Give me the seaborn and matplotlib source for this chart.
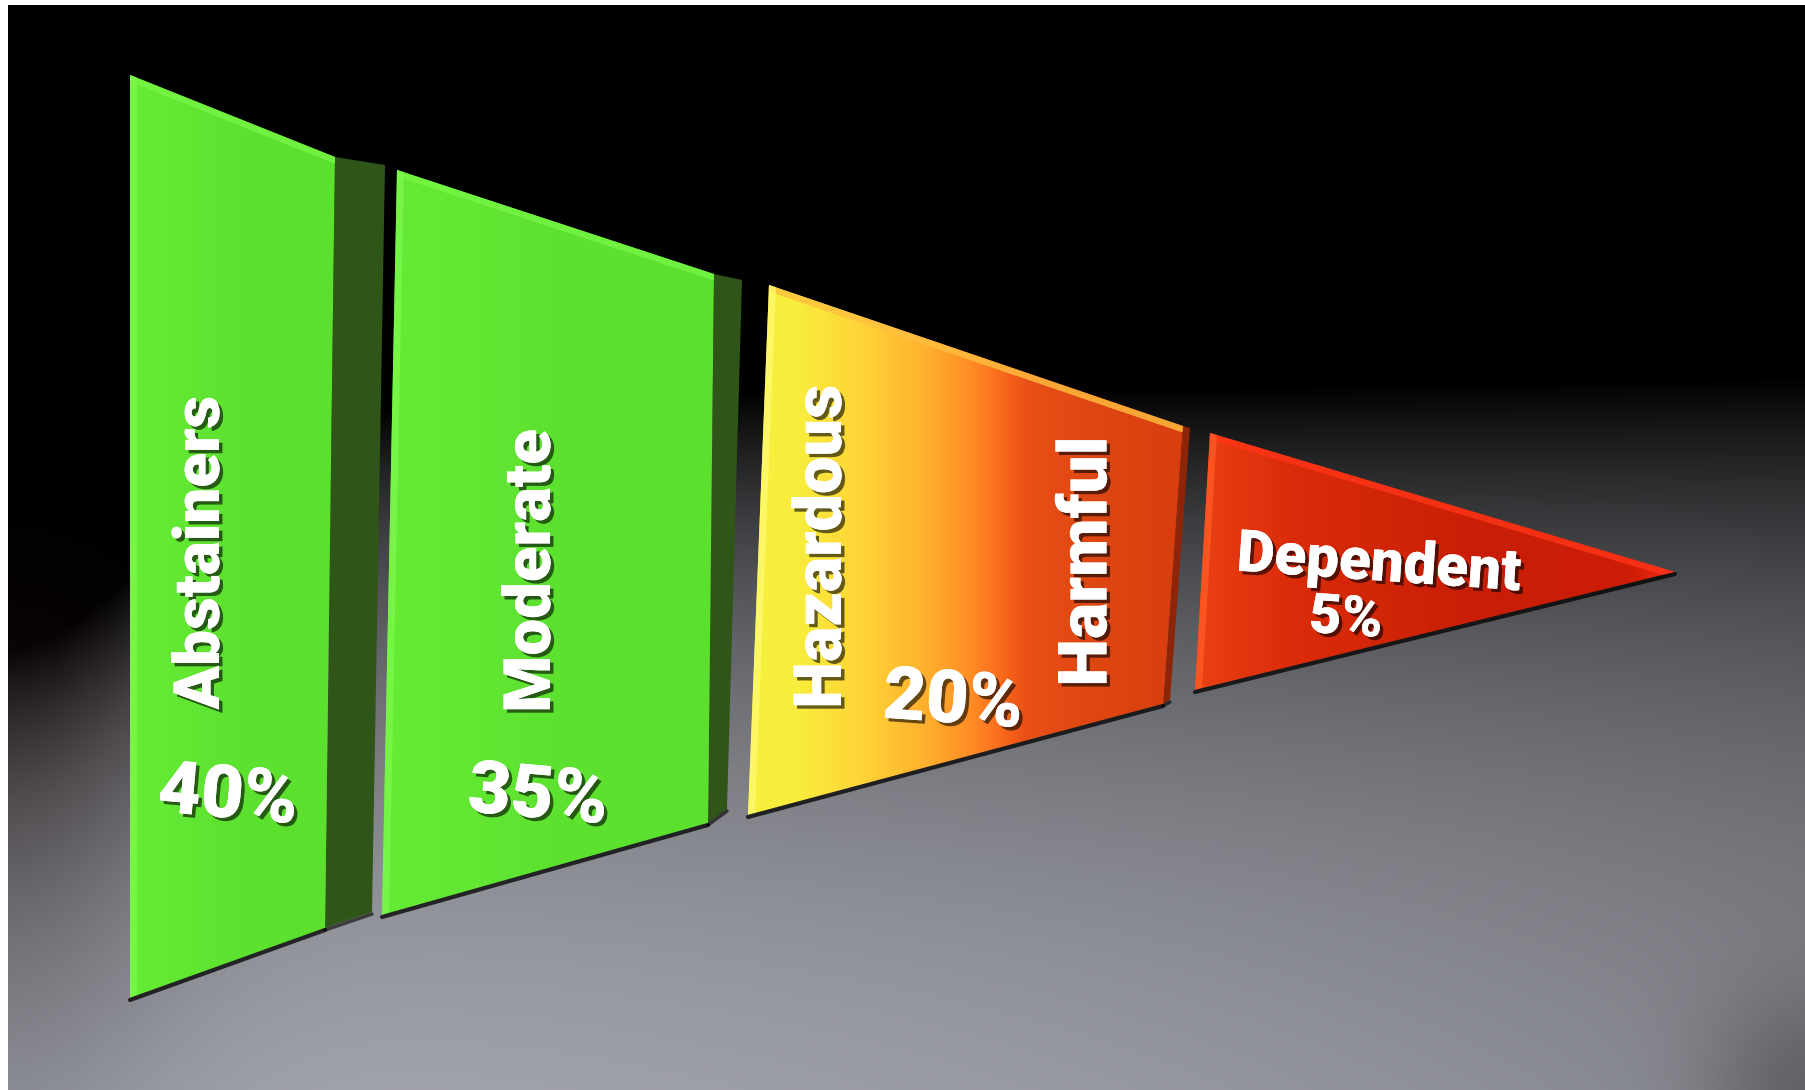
import numpy as np
import matplotlib
matplotlib.use("Agg")
import matplotlib.pyplot as plt
import seaborn as sns
from matplotlib.patches import Polygon
from matplotlib.lines import Line2D
from matplotlib import patheffects as pe
from matplotlib.colors import to_rgb

# ---- data: drinking patterns and their share of the population ----
groups = ["Abstainers", "Moderate", "Hazardous / Harmful", "Dependent"]
shares = [40, 35, 20, 5]
group_words = [["Abstainers"], ["Moderate"], ["Hazardous", "Harmful"], ["Dependent"]]

# ---- layout (canvas pixels, y grows downwards) ----
W, H = 1805, 1090
# front face of each block: top-left, top-right, bottom-right, bottom-left
block_faces = [
    [(130, 75), (335, 157), (325, 928), (130, 998)],
    [(397, 170), (714, 274), (708, 823), (382, 915)],
    [(769, 285), (1183, 426), (1163, 704), (748, 815)],
    [(1210, 433), (1675, 572), (1675, 572), (1195, 690)],
]
# visible right-hand side face of each block: top-right, bottom-right (None = no side)
block_sides = [
    [(385, 165), (372, 912)],
    [(742, 280), (727, 809)],
    [(1190, 428), (1170, 700)],
    None,
]
side_colors = ["#2f5518", "#2f5518", "#8e2408", None]

# face colour ramps (left -> right) with stop positions
face_ramps = [
    (["#66ec35", "#5ee230", "#5be02d"], [0.0, 0.5, 1.0]),
    (["#66ec35", "#5ee230", "#5be02d"], [0.0, 0.5, 1.0]),
    (["#f6f23e", "#f9ec3c", "#ffd236", "#ffb22e", "#ff8e26", "#fa6c1c",
      "#ea5016", "#de4612", "#d83e0e"],
     [0.0, 0.12, 0.27, 0.4, 0.51, 0.58, 0.64, 0.8, 1.0]),
    (["#ec4014", "#da2c0a", "#c81e06", "#cc1c06", "#f02a10"],
     [0.0, 0.2, 0.6, 0.9, 1.0]),
]
top_glow = ["#76f644", "#76f644", "#ffc040", "#ff3418"]
left_glow = ["#7cf84c", "#7cf84c", "#fff870", "#ff5a24"]

# label anchors: (x, y, rotation)
word_pos = [
    [(201, 553, 90)],
    [(532, 571, 90)],
    [(823, 547, 90), (1088, 562, 90)],
    [(1379, 565, -4)],
]
share_pos = [(228, 797, -5), (538, 797, -5), (953, 702, -4), (1346, 619, -4)]
word_size = [[46], [47], [48, 49], [42]]
share_size = [53, 53, 53, 40]

sns.set_theme(style="white")
plt.rcParams["font.family"] = ["Roboto", "DejaVu Sans"]

fig = plt.figure(figsize=(W / 100, H / 100), dpi=100, facecolor="white")
ax = fig.add_axes([8 / W, 0, 1 - 8 / W, 1 - 5 / H])
ax.set_axis_off()

# ---- backdrop: black studio fading into a grey floor ----
yy, xx = np.mgrid[0:H, 0:W].astype(float)
y0 = 395 + 255 * np.exp(-(xx / 220) ** 2) - 20 * (xx / W) ** 2
vmax = 0.72 - 0.14 * (xx / W) ** 2
d = np.clip(yy - y0, 0, None)
v = vmax * (1 - np.exp(-d / 300))
v *= 1 - 0.25 * np.exp(-(((xx - W) ** 2 + (yy - H) ** 2) / 100 ** 2))
warm = 0.05 * np.exp(-(xx / 160) ** 2) * np.exp(-((yy - 720) / 160) ** 2)
bg = np.stack([v * 0.98 + warm, v * 0.99 + warm * 0.4, v * 1.04 + warm * 0.4], axis=-1)
bg = np.clip(bg, 0, 1)
ax.imshow(bg, extent=(0, W, H, 0), aspect="auto", zorder=0, interpolation="bilinear")


def ramp_image(colors, stops, n=600):
    rgb = np.array([to_rgb(c) for c in colors])
    t = np.linspace(0, 1, n)
    return np.stack([np.interp(t, stops, rgb[:, k]) for k in range(3)], axis=-1)[None, :, :]


def draw_block(i):
    face = block_faces[i]
    side = block_sides[i]
    # side face first so the front overlaps its seam
    if side is not None:
        tr, br = face[1], face[2]
        ax.add_patch(Polygon([tr, side[0], side[1], br], closed=True,
                             facecolor=side_colors[i], edgecolor="none", zorder=2))
        ax.plot([br[0], side[1][0]], [br[1] + 2, side[1][1] + 2],
                color="black", lw=2.5, alpha=0.6, zorder=2, solid_capstyle="round")
    xs = [p[0] for p in face]
    ys = [p[1] for p in face]
    colors, stops = face_ramps[i]
    img = ramp_image(colors, stops)
    im = ax.imshow(img, extent=(min(xs), max(xs), max(ys), min(ys)), aspect="auto",
                   zorder=3, interpolation="bilinear")
    clip = Polygon(face, closed=True, facecolor="none", edgecolor="none", zorder=3)
    ax.add_patch(clip)
    im.set_clip_path(clip)
    # bevel glow on top and left edges
    tl, tr, br, bl = face
    for (p, q), col, lw in [((tl, tr), top_glow[i], 9), ((bl, tl), left_glow[i], 10)]:
        ln = Line2D([p[0], q[0]], [p[1], q[1]], color=col, lw=lw, alpha=0.8, zorder=4)
        ax.add_line(ln)
        ln.set_clip_path(clip)
    # dark rim along the lower edge
    ax.plot([bl[0], br[0]], [bl[1] + 2, br[1] + 2], color="black", lw=3, alpha=0.75,
            zorder=4, solid_capstyle="round")


for i in range(len(groups)):
    draw_block(i)

shadow = [pe.withSimplePatchShadow(offset=(2.5, -2.5), shadow_rgbFace="black", alpha=0.6),
          pe.Normal()]

for i in range(len(groups)):
    for word, (x, y, rot), fs in zip(group_words[i], word_pos[i], word_size[i]):
        ax.text(x, y, word, rotation=rot, ha="center", va="center", color="white",
                fontsize=fs, fontweight="black", zorder=6,
                rotation_mode="anchor", path_effects=shadow)
    x, y, rot = share_pos[i]
    ax.text(x, y, f"{shares[i]}%", rotation=rot, ha="center", va="center", color="white",
            fontsize=share_size[i], fontweight="black", zorder=6,
            rotation_mode="anchor", path_effects=shadow)

ax.set_xlim(8, W)
ax.set_ylim(H, 5)

fig.savefig("out.png", dpi=100, facecolor="white")
